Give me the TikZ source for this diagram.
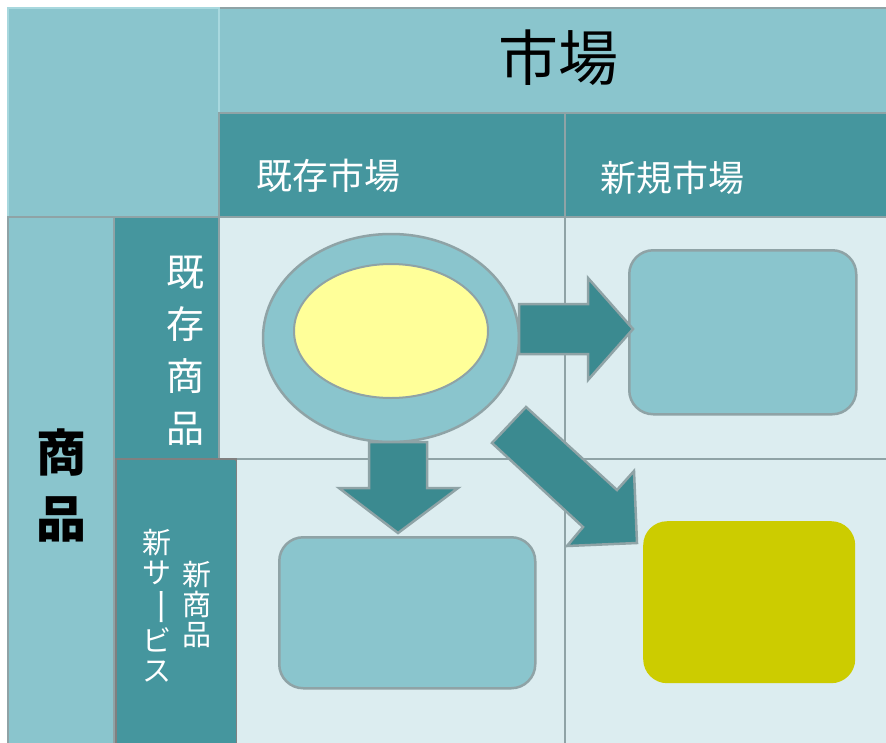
\documentclass[tikz,border=0pt]{standalone}
\usepackage{fontspec}
\newfontfamily\cjk{Noto Sans CJK JP}
\usetikzlibrary{shapes.geometric}
\definecolor{lightteal}{HTML}{8AC5CD}
\definecolor{teal}{HTML}{45969E}
\definecolor{arrowteal}{HTML}{3B8A90}
\definecolor{bodybg}{HTML}{DCEDF0}
\definecolor{grayline}{HTML}{8FA3A6}
\definecolor{paleborder}{HTML}{A8D8DE}
\definecolor{softyellow}{HTML}{FFFF99}
\definecolor{olive}{HTML}{CCCC00}
\tikzset{
  cellbox/.style={draw=grayline, line width=2.5pt, inner sep=0pt, outer sep=0pt, anchor=north west},
  shapebox/.style={draw=grayline, line width=2.5pt, rounded corners=24pt, inner sep=0pt, anchor=north west, fill=lightteal},
  bigarrow/.style={draw=grayline, line width=2.5pt, fill=arrowteal, line join=miter},
  whitetxt/.style={text=white, inner sep=0pt},
}
\begin{document}
\begin{tikzpicture}[x=1pt,y=-1pt]
\useasboundingbox (0,0) rectangle (886,742);
\fill[white] (0,0) rectangle (886,742);
% body cells
\node[cellbox, fill=bodybg, minimum width=346, minimum height=242] (c11) at (219,217) {};
\node[cellbox, fill=bodybg, minimum width=330, minimum height=242] (c12) at (565,217) {};
\node[cellbox, fill=bodybg, minimum width=329, minimum height=290] (c21) at (236,459) {};
\node[cellbox, fill=bodybg, minimum width=330, minimum height=290] (c22) at (565,459) {};
% headers
\node[cellbox, fill=lightteal, minimum width=680, minimum height=105] (market) at (219,8) {};
\node[cellbox, fill=lightteal, draw=paleborder, minimum width=211, minimum height=209] (corner) at (8,8) {};
\node[cellbox, fill=teal, minimum width=346, minimum height=104] (oldmkt) at (219,113) {};
\node[cellbox, fill=teal, minimum width=330, minimum height=104] (newmkt) at (565,113) {};
\node[cellbox, fill=lightteal, minimum width=106, minimum height=540] (product) at (8,217) {};
\node[cellbox, fill=teal, minimum width=105, minimum height=242] (oldprod) at (114,217) {};
\node[cellbox, fill=teal, draw=gray, minimum width=120, minimum height=300] (newprod) at (116,459) {};
\fill[teal] (118.5,461) rectangle (236,745);
% texts
\node[inner sep=0pt, font=\cjk\fontsize{60}{60}\selectfont] (t-market) at (558,58) {市場};
\node[whitetxt, font=\cjk\fontsize{36}{36}\selectfont] (t-oldmkt) at (328,176) {既存市場};
\node[whitetxt, font=\cjk\fontsize{36}{36}\selectfont] (t-newmkt) at (672,178) {新規市場};
\node[whitetxt, align=center, font=\cjk\fontsize{38}{52}\selectfont] (t-oldprod) at (185,351) {既\\存\\商\\品};
\node[inner sep=0pt, align=center, font=\cjk\bfseries\fontsize{50}{66}\selectfont] (t-product) at (61,485) {商\\品};
\node[whitetxt, align=center, font=\cjk\fontsize{29}{30}\selectfont] (t-newsvc) at (157,606) {新\\サ\\\rotatebox[origin=c]{-90}{\scalebox{1.35}[1]{ー}}\\ビ\\ス};
\node[whitetxt, align=center, font=\cjk\fontsize{29}{30}\selectfont] (t-newprod) at (197,605) {新\\商\\品};
% shapes
\node[shapebox, minimum width=227, minimum height=164] (topright) at (628,249) {};
\node[shapebox, minimum width=256, minimum height=151] (bottomleft) at (278,536) {};
\node[anchor=north west, fill=olive, rounded corners=24pt, minimum width=212, minimum height=162, inner sep=0pt] (bottomright) at (643,521) {};
\node[ellipse, draw=grayline, line width=2.5pt, fill=lightteal, minimum width=256, minimum height=208, inner sep=0pt] (outer) at (391,338) {};
\node[ellipse, draw=grayline, line width=2pt, fill=softyellow, minimum width=194, minimum height=134, inner sep=0pt] (inner) at (391,331) {};
% arrows
\draw[bigarrow] (519,304) -- (588,304) -- (588,278) -- (633,329) -- (588,380) -- (588,354) -- (519,354) -- cycle;
\draw[bigarrow] (369,442) -- (427,442) -- (427,488) -- (458,488) -- (398,533) -- (339,488) -- (369,488) -- cycle;
\draw[bigarrow] (492,443) -- (526,407) -- (617,490) -- (634,471) -- (637,543) -- (567,546) -- (583,527) -- cycle;
\end{tikzpicture}
\end{document}
